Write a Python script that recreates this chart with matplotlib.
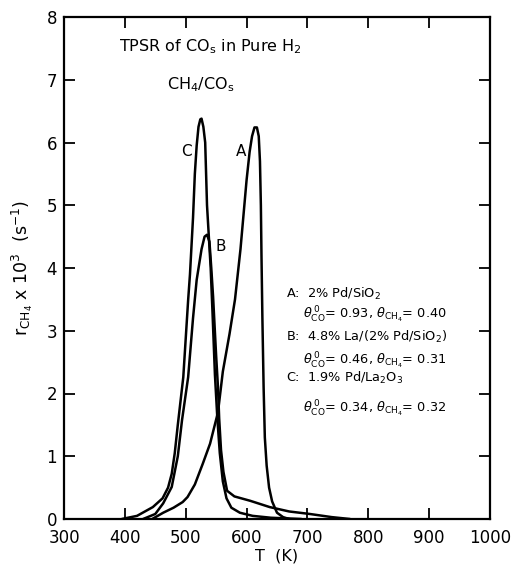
import matplotlib
matplotlib.use("Agg")
import matplotlib.pyplot as plt

# Curve data (T in K, rate x 10^3 in s^-1)
T_A = [445, 463, 480, 495, 503, 515, 528, 540, 553, 561, 572, 581, 590, 600, 605, 609, 613, 617, 620, 622, 623.5, 624.5, 626, 628, 630, 633, 637, 642, 650, 660, 670]
r_A = [0.0, 0.1, 0.18, 0.27, 0.35, 0.55, 0.88, 1.2, 1.7, 2.35, 2.95, 3.5, 4.3, 5.4, 5.85, 6.1, 6.24, 6.24, 6.1, 5.7, 5.0, 4.2, 3.2, 2.1, 1.3, 0.85, 0.5, 0.28, 0.1, 0.03, 0.0]

T_B = [430, 450, 463, 477, 487, 494, 504, 512, 518, 526, 531, 535, 539, 542, 545, 550, 553, 555, 558, 562, 568, 580, 606, 638, 670, 704, 740, 770]
r_B = [0.0, 0.08, 0.25, 0.51, 1.0, 1.58, 2.26, 3.2, 3.81, 4.3, 4.5, 4.53, 4.42, 4.0, 3.54, 2.6, 2.1, 1.6, 1.1, 0.75, 0.45, 0.36, 0.29, 0.19, 0.12, 0.08, 0.03, 0.0]

T_C = [395, 420, 446, 462, 471, 477, 482, 487, 496, 504, 507, 512, 515, 518, 521, 524, 526, 529, 532, 535, 538, 541, 544, 548, 552, 556, 561, 567, 575, 589, 610, 640, 690]
r_C = [0.0, 0.05, 0.19, 0.33, 0.5, 0.72, 1.05, 1.5, 2.26, 3.49, 3.9, 4.8, 5.5, 5.95, 6.25, 6.37, 6.38, 6.25, 6.0, 5.0, 4.5, 4.0, 3.3, 2.3, 1.6, 1.05, 0.6, 0.33, 0.18, 0.1, 0.05, 0.02, 0.0]

x_ticks = [300, 400, 500, 600, 700, 800, 900, 1000]
y_ticks = [0, 1, 2, 3, 4, 5, 6, 7, 8]

plt.rcParams['font.family'] = ['DejaVu Sans']
plt.rcParams['mathtext.fontset'] = 'dejavusans'

fig = plt.figure(figsize=(5.12, 5.67), dpi=100)
ax = fig.add_axes([64/512, 1 - 519/567, (490 - 64)/512, (519 - 17)/567])

for T, r in [(T_A, r_A), (T_B, r_B), (T_C, r_C)]:
    ax.plot(T, r, color='black', lw=1.8, solid_capstyle='round', solid_joinstyle='round')

ax.set_xlim(300, 1000)
ax.set_ylim(0, 8)
ax.set_xticks(x_ticks)
ax.set_yticks(y_ticks)
ax.set_xticklabels([str(v) for v in x_ticks], fontsize=12)
ax.set_yticklabels([str(v) for v in y_ticks], fontsize=12)
ax.tick_params(direction='in', length=8, width=1.3, top=True, right=True)
ax.tick_params(axis='x', pad=7)
ax.tick_params(axis='y', pad=5)
for s in ax.spines.values():
    s.set_linewidth(1.6)

ax.set_xlabel('T  (K)', fontsize=11.5, labelpad=1)
ax.set_ylabel(r'r$_{\mathrm{CH_4}}$ x 10$^3$  (s$^{-1}$)', fontsize=12.5, labelpad=8)

fs = 11
ax.text(0.343, 0.94, r'TPSR of CO$_\mathrm{s}$ in Pure H$_2$', transform=ax.transAxes,
        ha='center', va='center', fontsize=11.5)
ax.text(0.32, 0.865, r'CH$_4$/CO$_\mathrm{s}$', transform=ax.transAxes,
        ha='center', va='center', fontsize=11.5)

ax.text(502, 5.86, 'C', ha='center', va='center', fontsize=fs)
ax.text(591, 5.86, 'A', ha='center', va='center', fontsize=fs)
ax.text(557, 4.35, 'B', ha='center', va='center', fontsize=fs)

fs2 = 9.3
xa = 0.522
xb = 0.56
ax.text(xa, 0.449, r'A:  2% Pd/SiO$_2$', transform=ax.transAxes, va='center', fontsize=fs2)
ax.text(xb, 0.407, r'$\theta^{\,0}_{\mathrm{CO}}$= 0.93, $\theta_{\mathrm{CH_4}}$= 0.40', transform=ax.transAxes, va='center', fontsize=fs2)
ax.text(xa, 0.363, r'B:  4.8% La/(2% Pd/SiO$_2$)', transform=ax.transAxes, va='center', fontsize=fs2)
ax.text(xb, 0.315, r'$\theta^{\,0}_{\mathrm{CO}}$= 0.46, $\theta_{\mathrm{CH_4}}$= 0.31', transform=ax.transAxes, va='center', fontsize=fs2)
ax.text(xa, 0.28, r'C:  1.9% Pd/La$_2$O$_3$', transform=ax.transAxes, va='center', fontsize=fs2)
ax.text(xb, 0.22, r'$\theta^{\,0}_{\mathrm{CO}}$= 0.34, $\theta_{\mathrm{CH_4}}$= 0.32', transform=ax.transAxes, va='center', fontsize=fs2)

fig.savefig('out.png', dpi=100)
